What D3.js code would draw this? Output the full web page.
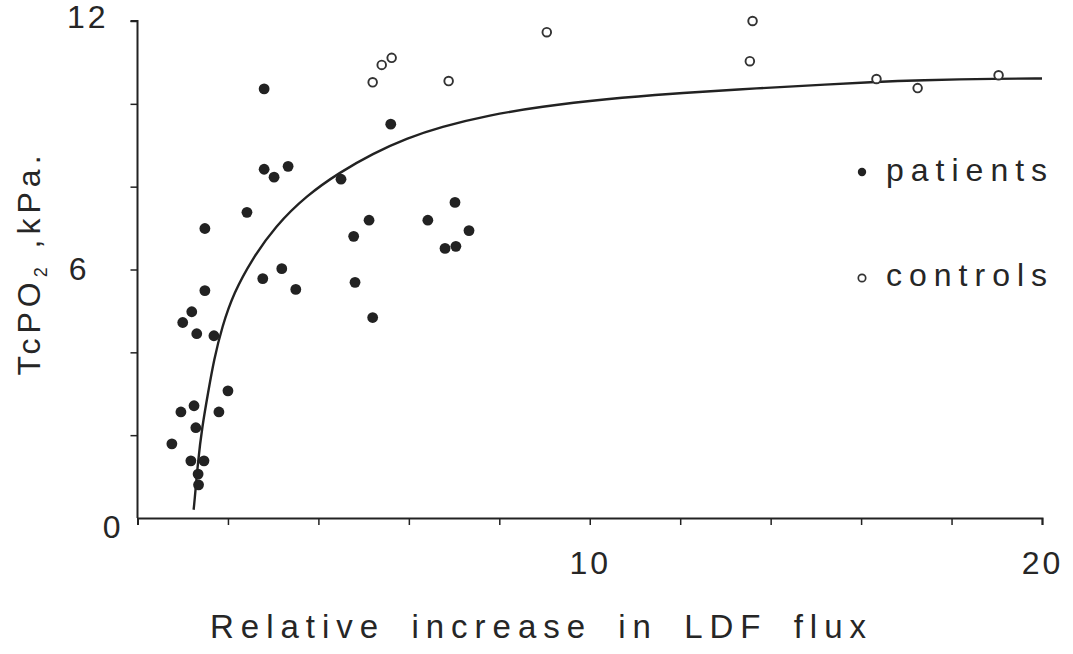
<!DOCTYPE html>
<html>
<head>
<meta charset="utf-8">
<script src="https://cdnjs.cloudflare.com/ajax/libs/d3/7.8.5/d3.min.js"></script>
<style>
  html, body { margin: 0; padding: 0; background: #fff; }
  svg { display: block; }
  text { font-family: "Liberation Sans", Arial, sans-serif; fill: #262626; }
</style>
</head>
<body>
<div id="chart"></div>
<script>
// patients (filled dots): [relative increase in LDF flux, TcPO2 kPa]
const patients = [
  [0.76, 1.79], [0.96, 2.56], [1.0, 4.72], [1.2, 4.98], [1.25, 2.71],
  [1.29, 2.18], [1.31, 4.45], [1.18, 1.38], [1.47, 1.38], [1.34, 1.06],
  [1.35, 0.80], [1.49, 6.99], [1.49, 5.49], [1.69, 4.40], [1.80, 2.56],
  [2.0, 3.07], [2.42, 7.38], [2.80, 10.36], [2.80, 8.42], [3.02, 8.23],
  [3.33, 8.49], [2.77, 5.78], [3.19, 6.02], [3.50, 5.52], [4.50, 8.18],
  [4.78, 6.80], [4.81, 5.69], [5.12, 7.19], [5.20, 4.84], [5.60, 9.51],
  [6.42, 7.19], [6.80, 6.51], [7.04, 6.56], [7.02, 7.62], [7.33, 6.94]
];

// controls (open circles)
const controls = [
  [5.20, 10.52], [5.40, 10.94], [5.62, 11.11], [6.88, 10.55], [9.05, 11.73],
  [13.54, 11.03], [13.60, 12.0], [16.34, 10.60], [17.25, 10.38], [19.04, 10.69]
];

// fitted curve
const fitCurve = [
  [1.24, 0.20], [1.25, 0.27], [1.34, 1.40], [1.43, 2.20], [1.56, 3.02], [1.69, 3.82],
  [1.87, 4.62], [2.13, 5.44], [2.53, 6.24], [3.04, 7.04], [3.75, 7.80],
  [4.48, 8.35], [5.20, 8.80], [5.96, 9.17], [6.69, 9.44], [7.79, 9.73],
  [8.90, 9.93], [10.38, 10.12], [11.83, 10.25], [13.31, 10.35], [14.64, 10.43],
  [16.34, 10.53], [17.25, 10.57], [19.06, 10.61], [20.0, 10.61], [20.0, 10.61]
];

const xTicks = [2, 4, 6, 8, 10, 12, 14, 16, 18, 20];
const xLabels = [10, 20];
const yTicks = [0, 2, 4, 6, 8, 10, 12];
const yLabels = [0, 6, 12];

const width = 1073, height = 654;
const ink = "#222";
const fontSize = 32;

const svg = d3.select("#chart").append("svg")
    .attr("width", width)
    .attr("height", height);

const x = d3.scaleLinear().domain([0, 20]).range([137.5, 1042]);
const y = d3.scaleLinear().domain([0, 12]).range([518, 21]);

// x axis
const xAxis = svg.append("g")
    .attr("transform", `translate(0,${y(0)})`)
    .call(d3.axisBottom(x)
        .tickValues(xTicks)
        .tickSize(7)
        .tickPadding(26)
        .tickFormat(d => xLabels.includes(d) ? d : ""));
xAxis.select(".domain").attr("stroke", ink).attr("stroke-width", 2);
xAxis.selectAll(".tick line").attr("stroke", ink).attr("stroke-width", 1.5);
xAxis.selectAll(".tick text")
    .attr("font-size", fontSize).attr("letter-spacing", 3).attr("fill", "#262626")
    .attr("font-family", "Liberation Sans, Arial, sans-serif");

// y axis
const yAxis = svg.append("g")
    .attr("transform", `translate(${x(0)},0)`)
    .call(d3.axisLeft(y)
        .tickValues(yTicks)
        .tickSize(7)
        .tickPadding(22)
        .tickFormat(d => yLabels.includes(d) ? d : ""));
yAxis.select(".domain").attr("stroke", ink).attr("stroke-width", 2)
    .attr("d", `M-7,${y(12)}H0V${y(0)}`);
yAxis.selectAll(".tick line").attr("stroke", ink).attr("stroke-width", 1.5)
    .attr("display", d => d === 0 ? "none" : null);
yAxis.selectAll(".tick text")
    .attr("font-size", fontSize).attr("letter-spacing", 3).attr("fill", "#262626")
    .attr("font-family", "Liberation Sans, Arial, sans-serif");
// hand-lettered labels sit a little off the ticks
yAxis.selectAll(".tick text").filter(d => d === 12).attr("dy", "0.2em");
yAxis.selectAll(".tick text").filter(d => d === 6).attr("x", -48);
yAxis.selectAll(".tick text").filter(d => d === 0)
    .attr("x", -14).attr("dy", "0.6em").attr("y", 0);

// fitted line
svg.append("path")
    .datum(fitCurve)
    .attr("fill", "none")
    .attr("stroke", ink)
    .attr("stroke-width", 2.4)
    .attr("d", d3.line()
        .x(d => x(d[0]))
        .y(d => y(d[1]))
        .curve(d3.curveBasis));

// points
svg.append("g").selectAll("circle")
    .data(patients)
    .join("circle")
    .attr("cx", d => x(d[0]))
    .attr("cy", d => y(d[1]))
    .attr("r", 5.4)
    .attr("fill", ink);

svg.append("g").selectAll("circle")
    .data(controls)
    .join("circle")
    .attr("cx", d => x(d[0]))
    .attr("cy", d => y(d[1]))
    .attr("r", 4.3)
    .attr("fill", "#fff")
    .attr("stroke", "#333")
    .attr("stroke-width", 1.9);

// legend
const legend = svg.append("g");
legend.append("circle").attr("cx", 862).attr("cy", 172).attr("r", 4.2).attr("fill", ink);
legend.append("text").attr("x", 886).attr("y", 181)
    .attr("font-size", fontSize).attr("letter-spacing", 7).text("patients");
legend.append("circle").attr("cx", 862).attr("cy", 278).attr("r", 3.7)
    .attr("fill", "#fff").attr("stroke", "#333").attr("stroke-width", 1.7);
legend.append("text").attr("x", 886).attr("y", 286)
    .attr("font-size", fontSize).attr("letter-spacing", 7).text("controls");

// axis titles
svg.append("text")
    .attr("x", 210).attr("y", 638)
    .attr("font-size", 33).attr("letter-spacing", 7).attr("word-spacing", 10)
    .text("Relative increase in LDF flux");

const yTitle = svg.append("text")
    .attr("transform", "translate(40,263) rotate(-90)")
    .attr("text-anchor", "middle")
    .attr("font-size", fontSize).attr("letter-spacing", 5);
yTitle.append("tspan").text("TcPO");
yTitle.append("tspan").attr("font-size", 18).attr("dy", 7).text("2");
yTitle.append("tspan").attr("dy", -7).text(" ,kPa.");
</script>
</body>
</html>
